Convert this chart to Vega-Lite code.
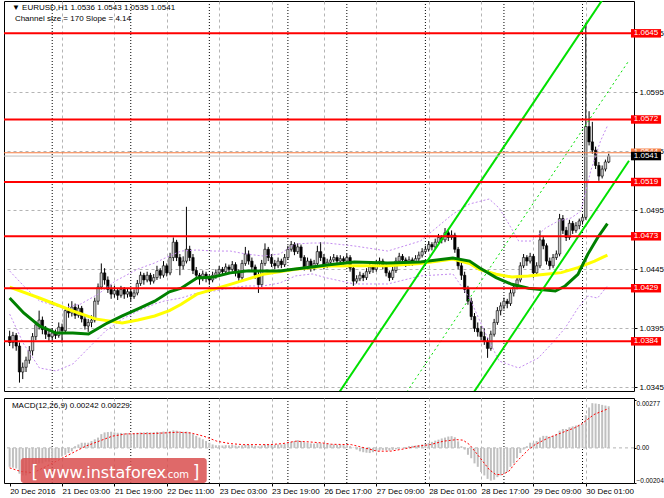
{
  "$schema": "https://vega.github.io/schema/vega-lite/v6.json",
  "padding": {"left": 2, "top": 0, "right": 0, "bottom": 0},
  "background": "white",
  "spacing": 5,
  "config": {
    "view": {"stroke": "#000000", "strokeWidth": 1},
    "axis": {"labelFont": "Liberation Sans", "labelFontSize": 8, "labelColor": "#000000"},
    "text": {"font": "Liberation Sans"}
  },
  "resolve": {"scale": {"x": "independent", "y": "independent"}},
  "datasets": {
    "bars": [
      {"i":0,"o":1.0388,"h":1.0393,"l":1.0380,"c":1.0383,"m":-0.0011},
      {"i":1,"o":1.0383,"h":1.0392,"l":1.0378,"c":1.0389,"m":-0.00115},
      {"i":2,"o":1.0389,"h":1.0391,"l":1.0376,"c":1.0380,"m":-0.0012},
      {"i":3,"o":1.0380,"h":1.0383,"l":1.0349,"c":1.0358,"m":-0.0015},
      {"i":4,"o":1.0358,"h":1.0366,"l":1.0352,"c":1.0362,"m":-0.0016},
      {"i":5,"o":1.0362,"h":1.0371,"l":1.0358,"c":1.0368,"m":-0.0016},
      {"i":6,"o":1.0368,"h":1.0380,"l":1.0365,"c":1.0376,"m":-0.0015},
      {"i":7,"o":1.0376,"h":1.0391,"l":1.0372,"c":1.0388,"m":-0.0013},
      {"i":8,"o":1.0388,"h":1.0401,"l":1.0385,"c":1.0398,"m":-0.0011},
      {"i":9,"o":1.0398,"h":1.0410,"l":1.0394,"c":1.0402,"m":-0.0009},
      {"i":10,"o":1.0402,"h":1.0405,"l":1.0390,"c":1.0394,"m":-0.0009},
      {"i":11,"o":1.0394,"h":1.0397,"l":1.0386,"c":1.0390,"m":-0.0008},
      {"i":12,"o":1.0390,"h":1.0393,"l":1.0384,"c":1.0388,"m":-0.0008},
      {"i":13,"o":1.0388,"h":1.0395,"l":1.0385,"c":1.0391,"m":-0.0007},
      {"i":14,"o":1.0391,"h":1.0394,"l":1.0386,"c":1.0389,"m":-0.0007},
      {"i":15,"o":1.0389,"h":1.0400,"l":1.0387,"c":1.0396,"m":-0.0006},
      {"i":16,"o":1.0396,"h":1.0399,"l":1.0383,"c":1.0393,"m":-0.0005},
      {"i":17,"o":1.0393,"h":1.0413,"l":1.0391,"c":1.0410,"m":-0.0004},
      {"i":18,"o":1.0410,"h":1.0416,"l":1.0404,"c":1.0408,"m":-0.0003},
      {"i":19,"o":1.0408,"h":1.0418,"l":1.0405,"c":1.0413,"m":-0.0002},
      {"i":20,"o":1.0413,"h":1.0416,"l":1.0403,"c":1.0406,"m":0.0001},
      {"i":21,"o":1.0406,"h":1.0415,"l":1.0404,"c":1.0412,"m":0.0002},
      {"i":22,"o":1.0412,"h":1.0414,"l":1.0400,"c":1.0403,"m":0.0003},
      {"i":23,"o":1.0403,"h":1.0406,"l":1.0394,"c":1.0397,"m":0.0003},
      {"i":24,"o":1.0397,"h":1.0403,"l":1.0392,"c":1.0400,"m":0.0003},
      {"i":25,"o":1.0400,"h":1.0406,"l":1.0396,"c":1.0402,"m":0.0004},
      {"i":26,"o":1.0402,"h":1.0421,"l":1.0400,"c":1.0418,"m":0.0005},
      {"i":27,"o":1.0418,"h":1.0433,"l":1.0415,"c":1.0430,"m":0.0006},
      {"i":28,"o":1.0430,"h":1.0450,"l":1.0428,"c":1.0442,"m":0.0008},
      {"i":29,"o":1.0442,"h":1.0446,"l":1.0432,"c":1.0436,"m":0.0009},
      {"i":30,"o":1.0436,"h":1.0439,"l":1.0425,"c":1.0428,"m":0.00092},
      {"i":31,"o":1.0428,"h":1.0432,"l":1.0420,"c":1.0424,"m":0.00094},
      {"i":32,"o":1.0424,"h":1.0431,"l":1.0421,"c":1.0427,"m":0.0009},
      {"i":33,"o":1.0427,"h":1.0429,"l":1.0419,"c":1.0423,"m":0.00088},
      {"i":34,"o":1.0423,"h":1.0431,"l":1.0421,"c":1.0428,"m":0.00087},
      {"i":35,"o":1.0428,"h":1.0430,"l":1.0420,"c":1.0424,"m":0.00085},
      {"i":36,"o":1.0424,"h":1.0429,"l":1.0421,"c":1.0426,"m":0.00086},
      {"i":37,"o":1.0426,"h":1.0428,"l":1.0418,"c":1.0422,"m":0.00084},
      {"i":38,"o":1.0422,"h":1.0428,"l":1.0420,"c":1.0425,"m":0.00085},
      {"i":39,"o":1.0425,"h":1.0436,"l":1.0423,"c":1.0433,"m":0.00088},
      {"i":40,"o":1.0433,"h":1.0443,"l":1.0431,"c":1.0440,"m":0.0009},
      {"i":41,"o":1.0440,"h":1.0442,"l":1.0432,"c":1.0436,"m":0.0009},
      {"i":42,"o":1.0436,"h":1.0443,"l":1.0434,"c":1.0440,"m":0.00092},
      {"i":43,"o":1.0440,"h":1.0442,"l":1.0432,"c":1.0435,"m":0.0009},
      {"i":44,"o":1.0435,"h":1.0441,"l":1.0433,"c":1.0438,"m":0.00091},
      {"i":45,"o":1.0438,"h":1.0448,"l":1.0436,"c":1.0444,"m":0.00093},
      {"i":46,"o":1.0444,"h":1.0446,"l":1.0437,"c":1.0440,"m":0.00092},
      {"i":47,"o":1.0440,"h":1.0452,"l":1.0438,"c":1.0448,"m":0.00095},
      {"i":48,"o":1.0448,"h":1.0450,"l":1.0439,"c":1.0442,"m":0.00094},
      {"i":49,"o":1.0442,"h":1.0459,"l":1.0440,"c":1.0455,"m":0.00098},
      {"i":50,"o":1.0455,"h":1.0472,"l":1.0452,"c":1.0468,"m":0.00102},
      {"i":51,"o":1.0468,"h":1.0470,"l":1.0452,"c":1.0455,"m":0.001},
      {"i":52,"o":1.0455,"h":1.0458,"l":1.0440,"c":1.0448,"m":0.00096},
      {"i":53,"o":1.0448,"h":1.0456,"l":1.0445,"c":1.0452,"m":0.00094},
      {"i":54,"o":1.0452,"h":1.0498,"l":1.0450,"c":1.0462,"m":0.00095},
      {"i":55,"o":1.0462,"h":1.0465,"l":1.0452,"c":1.0455,"m":0.0009},
      {"i":56,"o":1.0455,"h":1.0458,"l":1.0441,"c":1.0444,"m":0.0008},
      {"i":57,"o":1.0444,"h":1.0447,"l":1.0436,"c":1.0440,"m":0.0007},
      {"i":58,"o":1.0440,"h":1.0442,"l":1.0432,"c":1.0437,"m":0.0006},
      {"i":59,"o":1.0437,"h":1.0444,"l":1.0435,"c":1.0441,"m":0.0005},
      {"i":60,"o":1.0441,"h":1.0443,"l":1.0434,"c":1.0438,"m":0.0004},
      {"i":61,"o":1.0438,"h":1.0440,"l":1.0432,"c":1.0436,"m":0.0003},
      {"i":62,"o":1.0436,"h":1.0443,"l":1.0434,"c":1.0440,"m":0.0002},
      {"i":63,"o":1.0440,"h":1.0445,"l":1.0437,"c":1.0442,"m":0.00015},
      {"i":64,"o":1.0442,"h":1.0448,"l":1.0440,"c":1.0445,"m":0.00015},
      {"i":65,"o":1.0445,"h":1.0447,"l":1.0440,"c":1.0443,"m":0.00014},
      {"i":66,"o":1.0443,"h":1.0450,"l":1.0441,"c":1.0447,"m":0.00016},
      {"i":67,"o":1.0447,"h":1.0449,"l":1.0442,"c":1.0445,"m":0.00015},
      {"i":68,"o":1.0445,"h":1.0452,"l":1.0443,"c":1.0449,"m":0.00017},
      {"i":69,"o":1.0449,"h":1.0451,"l":1.0439,"c":1.0442,"m":0.00014},
      {"i":70,"o":1.0442,"h":1.0445,"l":1.0435,"c":1.0438,"m":0.00012},
      {"i":71,"o":1.0438,"h":1.0453,"l":1.0436,"c":1.0450,"m":0.00015},
      {"i":72,"o":1.0450,"h":1.0464,"l":1.0448,"c":1.0458,"m":0.00018},
      {"i":73,"o":1.0458,"h":1.0461,"l":1.0449,"c":1.0452,"m":0.00017},
      {"i":74,"o":1.0452,"h":1.0455,"l":1.0444,"c":1.0447,"m":0.00015},
      {"i":75,"o":1.0447,"h":1.0449,"l":1.0437,"c":1.0440,"m":0.00012},
      {"i":76,"o":1.0440,"h":1.0443,"l":1.0425,"c":1.0432,"m":0.0001},
      {"i":77,"o":1.0432,"h":1.0453,"l":1.0430,"c":1.0450,"m":0.00014},
      {"i":78,"o":1.0450,"h":1.0467,"l":1.0448,"c":1.0462,"m":0.0002},
      {"i":79,"o":1.0462,"h":1.0464,"l":1.0452,"c":1.0455,"m":0.0002},
      {"i":80,"o":1.0455,"h":1.0458,"l":1.0447,"c":1.0450,"m":0.00019},
      {"i":81,"o":1.0450,"h":1.0453,"l":1.0445,"c":1.0448,"m":0.00018},
      {"i":82,"o":1.0448,"h":1.0455,"l":1.0446,"c":1.0452,"m":0.0002},
      {"i":83,"o":1.0452,"h":1.0454,"l":1.0446,"c":1.0449,"m":0.0002},
      {"i":84,"o":1.0449,"h":1.0458,"l":1.0447,"c":1.0455,"m":0.00024},
      {"i":85,"o":1.0455,"h":1.0465,"l":1.0453,"c":1.0462,"m":0.0003},
      {"i":86,"o":1.0462,"h":1.0469,"l":1.0460,"c":1.0466,"m":0.00035},
      {"i":87,"o":1.0466,"h":1.0468,"l":1.0457,"c":1.0460,"m":0.0004},
      {"i":88,"o":1.0460,"h":1.0467,"l":1.0458,"c":1.0464,"m":0.00045},
      {"i":89,"o":1.0464,"h":1.0466,"l":1.0452,"c":1.0455,"m":0.0004},
      {"i":90,"o":1.0455,"h":1.0457,"l":1.0444,"c":1.0447,"m":0.00033},
      {"i":91,"o":1.0447,"h":1.0455,"l":1.0445,"c":1.0452,"m":0.0003},
      {"i":92,"o":1.0452,"h":1.0454,"l":1.0443,"c":1.0446,"m":0.00026},
      {"i":93,"o":1.0446,"h":1.0453,"l":1.0444,"c":1.0450,"m":0.00025},
      {"i":94,"o":1.0450,"h":1.0465,"l":1.0448,"c":1.0460,"m":0.00028},
      {"i":95,"o":1.0460,"h":1.0468,"l":1.0452,"c":1.0455,"m":0.00027},
      {"i":96,"o":1.0455,"h":1.0458,"l":1.0445,"c":1.0448,"m":0.00024},
      {"i":97,"o":1.0448,"h":1.0454,"l":1.0446,"c":1.0451,"m":0.00023},
      {"i":98,"o":1.0451,"h":1.0456,"l":1.0449,"c":1.0453,"m":0.0002},
      {"i":99,"o":1.0453,"h":1.0458,"l":1.0451,"c":1.0455,"m":0.0002},
      {"i":100,"o":1.0455,"h":1.0457,"l":1.0449,"c":1.0452,"m":0.00018},
      {"i":101,"o":1.0452,"h":1.0457,"l":1.0450,"c":1.0454,"m":0.00018},
      {"i":102,"o":1.0454,"h":1.0456,"l":1.0449,"c":1.0452,"m":0.00016},
      {"i":103,"o":1.0452,"h":1.0458,"l":1.0450,"c":1.0455,"m":0.00015},
      {"i":104,"o":1.0455,"h":1.0457,"l":1.0443,"c":1.0446,"m":0.0001},
      {"i":105,"o":1.0446,"h":1.0448,"l":1.0431,"c":1.0435,"m":0.00002},
      {"i":106,"o":1.0435,"h":1.0440,"l":1.0433,"c":1.0437,"m":-0.0001},
      {"i":107,"o":1.0437,"h":1.0443,"l":1.0435,"c":1.0440,"m":-0.0002},
      {"i":108,"o":1.0440,"h":1.0442,"l":1.0435,"c":1.0438,"m":-0.00025},
      {"i":109,"o":1.0438,"h":1.0446,"l":1.0436,"c":1.0443,"m":-0.00028},
      {"i":110,"o":1.0443,"h":1.0450,"l":1.0441,"c":1.0447,"m":-0.0003},
      {"i":111,"o":1.0447,"h":1.0449,"l":1.0442,"c":1.0445,"m":-0.00025},
      {"i":112,"o":1.0445,"h":1.0453,"l":1.0443,"c":1.0450,"m":-0.0002},
      {"i":113,"o":1.0450,"h":1.0455,"l":1.0448,"c":1.0452,"m":-0.00015},
      {"i":114,"o":1.0452,"h":1.0454,"l":1.0445,"c":1.0448,"m":-0.00012},
      {"i":115,"o":1.0448,"h":1.0450,"l":1.0439,"c":1.0442,"m":-0.00014},
      {"i":116,"o":1.0442,"h":1.0444,"l":1.0435,"c":1.0438,"m":-0.00016},
      {"i":117,"o":1.0438,"h":1.0447,"l":1.0436,"c":1.0444,"m":-0.00012},
      {"i":118,"o":1.0444,"h":1.0455,"l":1.0442,"c":1.0452,"m":-0.00008},
      {"i":119,"o":1.0452,"h":1.0459,"l":1.0450,"c":1.0456,"m":-0.00004},
      {"i":120,"o":1.0456,"h":1.0458,"l":1.0450,"c":1.0453,"m":0.00001},
      {"i":121,"o":1.0453,"h":1.0455,"l":1.0447,"c":1.0450,"m":0.00005},
      {"i":122,"o":1.0450,"h":1.0456,"l":1.0448,"c":1.0453,"m":0.0001},
      {"i":123,"o":1.0453,"h":1.0455,"l":1.0448,"c":1.0451,"m":0.00012},
      {"i":124,"o":1.0451,"h":1.0457,"l":1.0449,"c":1.0454,"m":0.00014},
      {"i":125,"o":1.0454,"h":1.0460,"l":1.0452,"c":1.0457,"m":0.00016},
      {"i":126,"o":1.0457,"h":1.0463,"l":1.0455,"c":1.0460,"m":0.0002},
      {"i":127,"o":1.0460,"h":1.0465,"l":1.0458,"c":1.0462,"m":0.00024},
      {"i":128,"o":1.0462,"h":1.0469,"l":1.0460,"c":1.0466,"m":0.00028},
      {"i":129,"o":1.0466,"h":1.0468,"l":1.0461,"c":1.0464,"m":0.00035},
      {"i":130,"o":1.0464,"h":1.0471,"l":1.0462,"c":1.0468,"m":0.00042},
      {"i":131,"o":1.0468,"h":1.0475,"l":1.0466,"c":1.0472,"m":0.00048},
      {"i":132,"o":1.0472,"h":1.0474,"l":1.0467,"c":1.0470,"m":0.00055},
      {"i":133,"o":1.0470,"h":1.0480,"l":1.0468,"c":1.0476,"m":0.0006},
      {"i":134,"o":1.0476,"h":1.0478,"l":1.0469,"c":1.0472,"m":0.00066},
      {"i":135,"o":1.0472,"h":1.0478,"l":1.0470,"c":1.0474,"m":0.00068},
      {"i":136,"o":1.0474,"h":1.0476,"l":1.0459,"c":1.0462,"m":0.00062},
      {"i":137,"o":1.0462,"h":1.0464,"l":1.0445,"c":1.0448,"m":0.00038},
      {"i":138,"o":1.0448,"h":1.0451,"l":1.0436,"c":1.0440,"m":0.0001},
      {"i":139,"o":1.0440,"h":1.0443,"l":1.0425,"c":1.0428,"m":-0.0001},
      {"i":140,"o":1.0428,"h":1.0431,"l":1.0415,"c":1.0418,"m":-0.0004},
      {"i":141,"o":1.0418,"h":1.0421,"l":1.0402,"c":1.0405,"m":-0.0006},
      {"i":142,"o":1.0405,"h":1.0408,"l":1.0392,"c":1.0395,"m":-0.0009},
      {"i":143,"o":1.0395,"h":1.0400,"l":1.0388,"c":1.0392,"m":-0.0011},
      {"i":144,"o":1.0392,"h":1.0397,"l":1.0385,"c":1.0388,"m":-0.0014},
      {"i":145,"o":1.0388,"h":1.0395,"l":1.0381,"c":1.0384,"m":-0.0016},
      {"i":146,"o":1.0384,"h":1.0387,"l":1.0370,"c":1.0378,"m":-0.0018},
      {"i":147,"o":1.0378,"h":1.0393,"l":1.0376,"c":1.0390,"m":-0.0019},
      {"i":148,"o":1.0390,"h":1.0403,"l":1.0388,"c":1.0400,"m":-0.00185},
      {"i":149,"o":1.0400,"h":1.0413,"l":1.0398,"c":1.0410,"m":-0.0017},
      {"i":150,"o":1.0410,"h":1.0417,"l":1.0406,"c":1.0414,"m":-0.0016},
      {"i":151,"o":1.0414,"h":1.0421,"l":1.0411,"c":1.0418,"m":-0.0015},
      {"i":152,"o":1.0418,"h":1.0420,"l":1.0412,"c":1.0416,"m":-0.0014},
      {"i":153,"o":1.0416,"h":1.0428,"l":1.0414,"c":1.0425,"m":-0.0011},
      {"i":154,"o":1.0425,"h":1.0433,"l":1.0422,"c":1.0430,"m":-0.0009},
      {"i":155,"o":1.0430,"h":1.0439,"l":1.0428,"c":1.0436,"m":-0.0006},
      {"i":156,"o":1.0436,"h":1.0451,"l":1.0434,"c":1.0448,"m":-0.0003},
      {"i":157,"o":1.0448,"h":1.0458,"l":1.0446,"c":1.0455,"m":-0.0001},
      {"i":158,"o":1.0455,"h":1.0457,"l":1.0448,"c":1.0452,"m":0.0001},
      {"i":159,"o":1.0452,"h":1.0459,"l":1.0450,"c":1.0456,"m":0.0003},
      {"i":160,"o":1.0456,"h":1.0458,"l":1.0438,"c":1.0442,"m":0.0003},
      {"i":161,"o":1.0442,"h":1.0451,"l":1.0440,"c":1.0448,"m":0.0004},
      {"i":162,"o":1.0448,"h":1.0478,"l":1.0446,"c":1.0470,"m":0.0006},
      {"i":163,"o":1.0470,"h":1.0473,"l":1.0462,"c":1.0465,"m":0.0007},
      {"i":164,"o":1.0465,"h":1.0467,"l":1.0449,"c":1.0452,"m":0.0007},
      {"i":165,"o":1.0452,"h":1.0455,"l":1.0445,"c":1.0448,"m":0.00065},
      {"i":166,"o":1.0448,"h":1.0458,"l":1.0446,"c":1.0455,"m":0.0007},
      {"i":167,"o":1.0455,"h":1.0461,"l":1.0453,"c":1.0458,"m":0.0008},
      {"i":168,"o":1.0458,"h":1.0492,"l":1.0456,"c":1.0488,"m":0.001},
      {"i":169,"o":1.0488,"h":1.0491,"l":1.0475,"c":1.0478,"m":0.0011},
      {"i":170,"o":1.0478,"h":1.0481,"l":1.0469,"c":1.0472,"m":0.0011},
      {"i":171,"o":1.0472,"h":1.0487,"l":1.0470,"c":1.0484,"m":0.0012},
      {"i":172,"o":1.0484,"h":1.0486,"l":1.0475,"c":1.0478,"m":0.00125},
      {"i":173,"o":1.0478,"h":1.0485,"l":1.0476,"c":1.0482,"m":0.0013},
      {"i":174,"o":1.0482,"h":1.0488,"l":1.0479,"c":1.0486,"m":0.00135},
      {"i":175,"o":1.0486,"h":1.0492,"l":1.0483,"c":1.0489,"m":0.0014},
      {"i":176,"o":1.0489,"h":1.0654,"l":1.0487,"c":1.0566,"m":0.0019},
      {"i":177,"o":1.0566,"h":1.0579,"l":1.0550,"c":1.0553,"m":0.00235},
      {"i":178,"o":1.0553,"h":1.0570,"l":1.0543,"c":1.0546,"m":0.0026},
      {"i":179,"o":1.0546,"h":1.0549,"l":1.0530,"c":1.0533,"m":0.00258},
      {"i":180,"o":1.0533,"h":1.0536,"l":1.0520,"c":1.0524,"m":0.00255},
      {"i":181,"o":1.0524,"h":1.0533,"l":1.0522,"c":1.0530,"m":0.0025},
      {"i":182,"o":1.0530,"h":1.0538,"l":1.0528,"c":1.0536,"m":0.00246},
      {"i":183,"o":1.0536,"h":1.0543,"l":1.0535,"c":1.0541,"m":0.00242}
    ],
    "slow": [
      {"i":0,"p":1.0430},{"i":9.1,"p":1.04207},{"i":19.3,"p":1.04097},{"i":26.2,"p":1.0403},
      {"i":34.4,"p":1.03995},{"i":39.2,"p":1.0402},{"i":44.3,"p":1.04055},{"i":48.8,"p":1.0410},
      {"i":52.4,"p":1.04154},{"i":57.2,"p":1.0424},{"i":67.4,"p":1.04323},{"i":77.4,"p":1.04408},
      {"i":87.3,"p":1.0445},{"i":96.9,"p":1.04478},{"i":105.3,"p":1.0448},{"i":115.5,"p":1.0448},
      {"i":125.5,"p":1.0450},{"i":135.4,"p":1.04537},{"i":140.5,"p":1.0450},{"i":143.5,"p":1.0445},
      {"i":148.6,"p":1.04408},{"i":153.4,"p":1.04385},{"i":158.5,"p":1.04394},{"i":163.7,"p":1.04408},
      {"i":168.5,"p":1.04422},{"i":173.6,"p":1.04464},{"i":178.7,"p":1.0452},{"i":182.6,"p":1.04571}
    ],
    "fast": [
      {"i":0,"p":1.04207},{"i":4.3,"p":1.0408},{"i":9.1,"p":1.0397},{"i":14.2,"p":1.0391},
      {"i":19.3,"p":1.0391},{"i":24.1,"p":1.03902},{"i":29.3,"p":1.03987},{"i":34.4,"p":1.04055},
      {"i":39.2,"p":1.04114},{"i":44.3,"p":1.0418},{"i":48.8,"p":1.0426},{"i":52.4,"p":1.0429},
      {"i":57.2,"p":1.04377},{"i":62.3,"p":1.04385},{"i":67.4,"p":1.0442},{"i":72.3,"p":1.04436},
      {"i":82.5,"p":1.04436},{"i":87.3,"p":1.04453},{"i":92.4,"p":1.0447},{"i":96.9,"p":1.04487},
      {"i":105.3,"p":1.04512},{"i":115.5,"p":1.04504},{"i":125.5,"p":1.04512},{"i":135.4,"p":1.04546},
      {"i":140.5,"p":1.0452},{"i":143.5,"p":1.04464},{"i":148.6,"p":1.0438},{"i":153.4,"p":1.04323},
      {"i":158.5,"p":1.0429},{"i":163.7,"p":1.04275},{"i":166.7,"p":1.04266},{"i":169.7,"p":1.04309},
      {"i":173.6,"p":1.04408},{"i":176.6,"p":1.04577},{"i":179.6,"p":1.04718},{"i":182.6,"p":1.04837}
    ],
    "envU": [
      {"i":0,"p":1.04436},{"i":4.3,"p":1.04309},{"i":9.1,"p":1.04182},{"i":16.3,"p":1.04122},
      {"i":21.7,"p":1.04156},{"i":27.1,"p":1.04241},{"i":32.3,"p":1.04351},{"i":39.2,"p":1.04453},
      {"i":44.3,"p":1.04504},{"i":48.8,"p":1.04563},{"i":52.4,"p":1.04605},{"i":57.2,"p":1.04614},
      {"i":62.3,"p":1.04605},{"i":67.4,"p":1.04605},{"i":72.2,"p":1.0458},{"i":77.4,"p":1.04563},
      {"i":82.5,"p":1.0458},{"i":87.3,"p":1.04665},{"i":92.4,"p":1.04673},{"i":96.9,"p":1.04673},
      {"i":105.3,"p":1.04648},{"i":115.5,"p":1.04605},{"i":125.5,"p":1.0469},{"i":135.4,"p":1.04919},
      {"i":140.5,"p":1.05004},{"i":146.5,"p":1.05046},{"i":149.5,"p":1.0497},{"i":152.5,"p":1.04834},
      {"i":155.5,"p":1.0469},{"i":159.4,"p":1.0469},{"i":163.7,"p":1.048},{"i":167.6,"p":1.0486},
      {"i":171.5,"p":1.04885},{"i":174.5,"p":1.04944},{"i":177.5,"p":1.05283},{"i":180.5,"p":1.05538},
      {"i":182.6,"p":1.05665}
    ],
    "envL": [
      {"i":0,"p":1.04071},{"i":4.3,"p":1.03817},{"i":9.1,"p":1.03614},{"i":14.2,"p":1.03589},
      {"i":19.3,"p":1.03648},{"i":24.1,"p":1.03783},{"i":29.3,"p":1.03928},{"i":34.4,"p":1.04029},
      {"i":39.2,"p":1.04097},{"i":44.3,"p":1.04156},{"i":47.3,"p":1.04182},{"i":52.4,"p":1.04207},
      {"i":57.2,"p":1.04249},{"i":62.3,"p":1.04266},{"i":67.4,"p":1.04292},{"i":72.2,"p":1.04309},
      {"i":77.4,"p":1.04309},{"i":82.5,"p":1.04334},{"i":87.3,"p":1.04394},{"i":92.4,"p":1.04411},
      {"i":96.9,"p":1.04377},{"i":105.3,"p":1.04326},{"i":115.5,"p":1.04326},{"i":125.5,"p":1.04394},
      {"i":135.4,"p":1.04411},{"i":140.5,"p":1.04207},{"i":145,"p":1.03928},{"i":149.5,"p":1.03673},
      {"i":155.5,"p":1.03614},{"i":161.5,"p":1.03699},{"i":165.5,"p":1.03817},{"i":169.7,"p":1.03953},
      {"i":173.6,"p":1.04122},{"i":176.6,"p":1.04224},{"i":179.6,"p":1.04207},{"i":182.6,"p":1.04309}
    ],
    "chan": [
      {"line":"upper","i":100,"p":1.0338},{"line":"upper","i":189.2,"p":1.0707},
      {"line":"middle","i":100,"p":1.0253},{"line":"middle","i":189.2,"p":1.0622},
      {"line":"lower","i":100,"p":1.0168},{"line":"lower","i":189.2,"p":1.0537}
    ],
    "levels": [{"p":1.0645},{"p":1.0572},{"p":1.0519},{"p":1.0473},{"p":1.0429},{"p":1.0384}],
    "price": [{"k":"ask","p":1.05438,"lab":"1.0544"},{"k":"bid","p":1.0541,"lab":"1.0541"}],
    "days": [{"i":13},{"i":37},{"i":61},{"i":85},{"i":103},{"i":127},{"i":151},{"i":175}],
    "sig": [
      {"i":0,"v":-0.00116},{"i":3.2,"v":-0.00136},{"i":7.2,"v":-0.00145},{"i":11.2,"v":-0.00107},
      {"i":15.2,"v":-0.00068},{"i":19.2,"v":-0.00029},{"i":23.2,"v":0.0001},{"i":27.3,"v":0.00039},
      {"i":31.3,"v":0.00068},{"i":35.3,"v":0.00081},{"i":39.3,"v":0.00083},{"i":43.3,"v":0.00083},
      {"i":47.3,"v":0.00087},{"i":51.3,"v":0.00091},{"i":55.3,"v":0.00087},{"i":59.3,"v":0.00068},
      {"i":63.3,"v":0.00039},{"i":67.3,"v":0.00025},{"i":71.3,"v":0.00019},{"i":79.4,"v":0.00019},
      {"i":83.4,"v":0.00025},{"i":87.4,"v":0.00039},{"i":91.4,"v":0.00035},{"i":95.4,"v":0.00029},
      {"i":98.4,"v":0.00021},{"i":104.4,"v":0.00019},{"i":108.4,"v":0.0},{"i":112.4,"v":-0.00019},
      {"i":116.4,"v":-0.00019},{"i":120.4,"v":-0.00006},{"i":124.5,"v":0.0001},{"i":128.5,"v":0.00019},
      {"i":132.5,"v":0.00039},{"i":136.5,"v":0.00048},{"i":138.5,"v":0.00045},{"i":140.5,"v":0.00019},
      {"i":142.5,"v":-0.00029},{"i":144.5,"v":-0.00077},{"i":146.5,"v":-0.00126},{"i":148.5,"v":-0.00155},
      {"i":150.5,"v":-0.00155},{"i":152.5,"v":-0.00136},{"i":154.5,"v":-0.00087},{"i":156.5,"v":-0.00048},
      {"i":158.5,"v":-0.0001},{"i":160.5,"v":0.00019},{"i":164.5,"v":0.00058},{"i":168.5,"v":0.00087},
      {"i":172.5,"v":0.00116},{"i":174.5,"v":0.00136},{"i":176.5,"v":0.00165},{"i":178.5,"v":0.00194},
      {"i":183,"v":0.00229}
    ]
  },
  "vconcat": [
    {
      "width": 630,
      "height": 390,
      "layer": [
        {
          "data": {"name": "days"},
          "mark": {"type": "rule", "color": "#000000", "strokeDash": [1, 2], "strokeWidth": 1},
          "encoding": {
            "x": {
              "field": "i", "type": "quantitative",
              "scale": {"domain": [-0.2, 189.2], "nice": false, "zero": false},
              "axis": {
                "orient": "bottom", "title": null, "labels": false, "ticks": false, "domain": false,
                "values": [0,8,16,24,32,40,48,56,64,72,80,88,96,104,112,120,128,136,144,152,160,168,176,184],
                "grid": true, "gridDash": [3, 3],
                "gridColor": {"condition": {"test": "datum.value == 0", "value": "transparent"}, "value": "#b4b4b4"}
              }
            }
          }
        },
        {
          "data": {"name": "bars"},
          "mark": {"type": "rule", "color": "#000000", "strokeWidth": 1},
          "encoding": {
            "x": {"field": "i", "type": "quantitative"},
            "y": {
              "field": "l", "type": "quantitative",
              "scale": {"domain": [1.03419, 1.06724], "nice": false, "zero": false},
              "axis": {
                "orient": "right", "title": null, "format": ".4f", "labelFlush": false,
                "values": [1.0345,1.037,1.0395,1.042,1.0445,1.047,1.0495,1.052,1.0545,1.057,1.0595,1.062,1.0645,1.067],
                "grid": true, "gridDash": [3, 3], "gridColor": "#b4b4b4",
                "tickSize": 3, "tickColor": "#000000", "labelPadding": 2, "domain": false
              }
            },
            "y2": {"field": "h"}
          }
        },
        {
          "data": {"name": "bars"},
          "mark": {"type": "bar", "size": 2.4, "stroke": "#000000", "strokeWidth": 0.6},
          "encoding": {
            "x": {"field": "i", "type": "quantitative"},
            "y": {"field": "o", "type": "quantitative"},
            "y2": {"field": "c"},
            "color": {"condition": {"test": "datum.c >= datum.o", "value": "#c8c8c8"}, "value": "#000000"}
          }
        },
        {
          "data": {"name": "envU"},
          "mark": {"type": "line", "color": "#c48cf0", "strokeDash": [2, 2], "strokeWidth": 1},
          "encoding": {"x": {"field": "i", "type": "quantitative"}, "y": {"field": "p", "type": "quantitative"}}
        },
        {
          "data": {"name": "envL"},
          "mark": {"type": "line", "color": "#c48cf0", "strokeDash": [2, 2], "strokeWidth": 1},
          "encoding": {"x": {"field": "i", "type": "quantitative"}, "y": {"field": "p", "type": "quantitative"}}
        },
        {
          "data": {"name": "slow"},
          "mark": {"type": "line", "color": "#ffff00", "strokeWidth": 3},
          "encoding": {"x": {"field": "i", "type": "quantitative"}, "y": {"field": "p", "type": "quantitative"}}
        },
        {
          "data": {"name": "fast"},
          "mark": {"type": "line", "color": "#008000", "strokeWidth": 3},
          "encoding": {"x": {"field": "i", "type": "quantitative"}, "y": {"field": "p", "type": "quantitative"}}
        },
        {
          "data": {"name": "chan"},
          "transform": [{"filter": "datum.line != 'middle'"}],
          "mark": {"type": "line", "color": "#00e000", "strokeWidth": 2, "clip": true},
          "encoding": {
            "x": {"field": "i", "type": "quantitative"},
            "y": {"field": "p", "type": "quantitative"},
            "detail": {"field": "line"}
          }
        },
        {
          "data": {"name": "chan"},
          "transform": [{"filter": "datum.line == 'middle'"}],
          "mark": {"type": "line", "color": "#00e000", "strokeWidth": 1, "strokeDash": [2, 3], "clip": true},
          "encoding": {"x": {"field": "i", "type": "quantitative"}, "y": {"field": "p", "type": "quantitative"}}
        },
        {
          "data": {"name": "levels"},
          "mark": {"type": "rule", "color": "#ff0000", "strokeWidth": 2},
          "encoding": {"y": {"field": "p", "type": "quantitative"}}
        },
        {
          "data": {"name": "price"},
          "transform": [{"filter": "datum.k == 'ask'"}],
          "mark": {"type": "rule", "color": "#f57c42", "strokeWidth": 1},
          "encoding": {"y": {"field": "p", "type": "quantitative"}}
        },
        {
          "data": {"name": "price"},
          "transform": [{"filter": "datum.k == 'bid'"}],
          "mark": {"type": "rule", "color": "#c0c0c0", "strokeWidth": 1},
          "encoding": {"y": {"field": "p", "type": "quantitative"}}
        },
        {
          "data": {"name": "levels"},
          "mark": {"type": "rule", "color": "#ff0000", "strokeWidth": 8.5, "strokeCap": "butt"},
          "encoding": {
            "x": {"datum": 189.8, "type": "quantitative"},
            "x2": {"datum": 199},
            "y": {"field": "p", "type": "quantitative"}
          }
        },
        {
          "data": {"name": "price"},
          "transform": [{"filter": "datum.k == 'ask'"}],
          "mark": {"type": "rule", "color": "#f57c42", "strokeWidth": 8.5, "strokeCap": "butt"},
          "encoding": {
            "x": {"datum": 189.8, "type": "quantitative"},
            "x2": {"datum": 199},
            "y": {"field": "p", "type": "quantitative"}
          }
        },
        {
          "data": {"name": "price"},
          "transform": [{"filter": "datum.k == 'ask'"}],
          "mark": {"type": "text", "color": "#ffffff", "fontSize": 8, "align": "center", "baseline": "middle", "dy": -1},
          "encoding": {
            "x": {"datum": 194.4, "type": "quantitative"},
            "y": {"field": "p", "type": "quantitative"},
            "text": {"field": "lab"}
          }
        },
        {
          "data": {"name": "price"},
          "transform": [{"filter": "datum.k == 'bid'"}],
          "mark": {"type": "rule", "color": "#000000", "strokeWidth": 8.5, "strokeCap": "butt"},
          "encoding": {
            "x": {"datum": 189.8, "type": "quantitative"},
            "x2": {"datum": 199},
            "y": {"field": "p", "type": "quantitative"}
          }
        },
        {
          "data": {"name": "levels"},
          "mark": {"type": "text", "color": "#ffffff", "fontSize": 8, "align": "center", "baseline": "middle"},
          "encoding": {
            "x": {"datum": 194.4, "type": "quantitative"},
            "y": {"field": "p", "type": "quantitative"},
            "text": {"field": "p", "type": "quantitative", "format": ".4f"}
          }
        },
        {
          "data": {"name": "price"},
          "transform": [{"filter": "datum.k == 'bid'"}],
          "mark": {"type": "text", "color": "#ffffff", "fontSize": 8, "align": "center", "baseline": "middle"},
          "encoding": {
            "x": {"datum": 194.4, "type": "quantitative"},
            "y": {"field": "p", "type": "quantitative"},
            "text": {"field": "lab"}
          }
        },
        {
          "data": {"values": [{"t": "▼ EURUSD,H1  1.0536 1.0543 1.0535 1.0541"}]},
          "mark": {"type": "text", "color": "#000000", "fontSize": 8, "align": "left", "baseline": "middle"},
          "encoding": {
            "x": {"datum": 0.7, "type": "quantitative"},
            "y": {"datum": 1.06662, "type": "quantitative"},
            "text": {"field": "t"}
          }
        },
        {
          "data": {"values": [{"t": "Channel size = 170 Slope = 4.14"}]},
          "mark": {"type": "text", "color": "#000000", "fontSize": 8, "align": "left", "baseline": "middle"},
          "encoding": {
            "x": {"datum": 1.6, "type": "quantitative"},
            "y": {"datum": 1.06569, "type": "quantitative"},
            "text": {"field": "t"}
          }
        }
      ]
    },
    {
      "width": 630,
      "height": 85,
      "layer": [
        {
          "data": {"name": "days"},
          "mark": {"type": "rule", "color": "#000000", "strokeDash": [1, 2], "strokeWidth": 1},
          "encoding": {
            "x": {
              "field": "i", "type": "quantitative",
              "scale": {"domain": [-0.2, 189.2], "nice": false, "zero": false},
              "axis": {
                "orient": "bottom", "title": null, "domain": false,
                "values": [0,8,16,24,32,40,48,56,64,72,80,88,96,104,112,120,128,136,144,152,160,168,176,184],
                "labelExpr": "datum.value % 16 == 0 ? ['20 Dec 2016','21 Dec 03:00','21 Dec 19:00','22 Dec 11:00','23 Dec 03:00','23 Dec 19:00','26 Dec 17:00','27 Dec 09:00','28 Dec 01:00','28 Dec 17:00','29 Dec 09:00','30 Dec 01:00'][datum.value / 16] : ''",
                "labelAlign": "left", "labelPadding": 1, "labelFlush": false, "labelOverlap": false,
                "tickSize": 3, "tickColor": "#000000",
                "tickOpacity": {"condition": {"test": "datum.value % 16 != 0", "value": 0}, "value": 1},
                "grid": true, "gridDash": [3, 3],
                "gridColor": {"condition": {"test": "datum.value == 0", "value": "transparent"}, "value": "#b4b4b4"}
              }
            }
          }
        },
        {
          "data": {"values": [{"z": 0}]},
          "mark": {"type": "rule", "color": "#b4b4b4", "strokeDash": [3, 3], "strokeWidth": 1},
          "encoding": {"y": {"field": "z", "type": "quantitative"}}
        },
        {
          "data": {"name": "bars"},
          "mark": {"type": "bar", "size": 2, "color": "#c0c0c0"},
          "encoding": {
            "x": {"field": "i", "type": "quantitative"},
            "y": {
              "field": "m", "type": "quantitative",
              "scale": {"domain": [-0.00204, 0.0029], "nice": false, "zero": false},
              "axis": {
                "orient": "right", "title": null, "grid": false, "domain": false,
                "values": [-0.00204, 0, 0.00277],
                "labelExpr": "datum.value == 0 ? '0.00' : format(datum.value, '.5f')",
                "labelFlush": false, "labelFontSize": 6.5,
                "labelBaseline": {"condition": [{"test": "datum.value > 0.002", "value": "top"}, {"test": "datum.value < -0.002", "value": "bottom"}], "value": "middle"},
                "tickSize": 2, "tickColor": "#000000", "labelPadding": 0
              }
            },
            "y2": {"datum": 0}
          }
        },
        {
          "data": {"name": "sig"},
          "mark": {"type": "line", "color": "#ff0000", "strokeDash": [2, 2], "strokeWidth": 1},
          "encoding": {"x": {"field": "i", "type": "quantitative"}, "y": {"field": "v", "type": "quantitative"}}
        },
        {
          "data": {"values": [{"w": "instaforex"}]},
          "mark": {"type": "rect", "color": "#d94f4f", "opacity": 0.85, "cornerRadius": 3},
          "encoding": {
            "x": {"datum": 3.4, "type": "quantitative"},
            "x2": {"datum": 60.2},
            "y": {"datum": -0.00059, "type": "quantitative"},
            "y2": {"datum": -0.00204}
          }
        },
        {
          "data": {"values": [{"t": "["}]},
          "mark": {"type": "text", "color": "#ffffff", "fontSize": 17, "font": "DejaVu Sans", "align": "left", "baseline": "alphabetic"},
          "encoding": {
            "x": {"datum": 6.7, "type": "quantitative"},
            "y": {"datum": -0.00175, "type": "quantitative"},
            "text": {"field": "t"}
          }
        },
        {
          "data": {"values": [{"t": "www.instaforex"}]},
          "mark": {"type": "text", "color": "#ffffff", "fontSize": 16, "font": "DejaVu Sans", "align": "left", "baseline": "alphabetic"},
          "encoding": {
            "x": {"datum": 10.3, "type": "quantitative"},
            "y": {"datum": -0.00175, "type": "quantitative"},
            "text": {"field": "t"}
          }
        },
        {
          "data": {"values": [{"t": ".com"}]},
          "mark": {"type": "text", "color": "#ffffff", "fontSize": 10, "font": "DejaVu Sans", "align": "left", "baseline": "alphabetic"},
          "encoding": {
            "x": {"datum": 47.3, "type": "quantitative"},
            "y": {"datum": -0.00175, "type": "quantitative"},
            "text": {"field": "t"}
          }
        },
        {
          "data": {"values": [{"t": "]"}]},
          "mark": {"type": "text", "color": "#ffffff", "fontSize": 17, "font": "DejaVu Sans", "align": "left", "baseline": "alphabetic"},
          "encoding": {
            "x": {"datum": 55.9, "type": "quantitative"},
            "y": {"datum": -0.00175, "type": "quantitative"},
            "text": {"field": "t"}
          }
        },
        {
          "data": {"values": [{"t": "MACD(12,26,9) 0.00242 0.00229"}]},
          "mark": {"type": "text", "color": "#000000", "fontSize": 8, "align": "left", "baseline": "middle"},
          "encoding": {
            "x": {"datum": 0.7, "type": "quantitative"},
            "y": {"datum": 0.00242, "type": "quantitative"},
            "text": {"field": "t"}
          }
        }
      ]
    }
  ]
}
